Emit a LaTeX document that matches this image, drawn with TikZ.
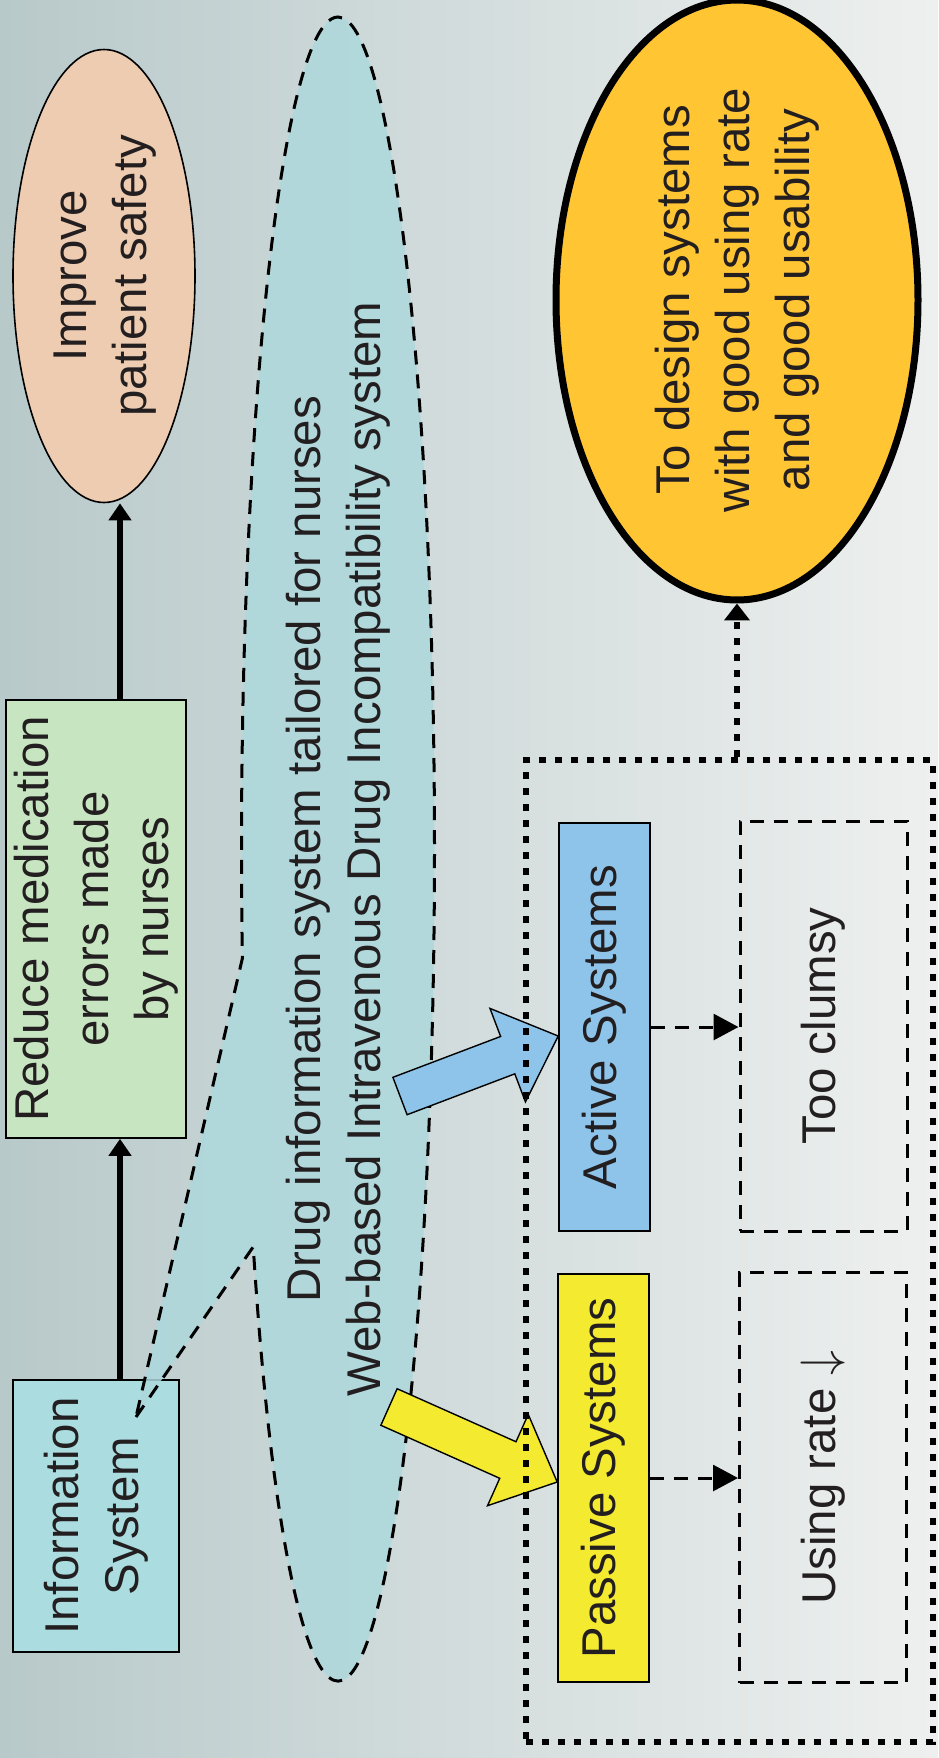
\documentclass[tikz,border=0pt]{standalone}
\usepackage{fontspec}
\setmainfont{Liberation Sans}
\usepackage{graphicx}
\usetikzlibrary{shapes.geometric, shapes.callouts, arrows.meta, calc}

\definecolor{inkgray}{HTML}{231F20}
\definecolor{infoteal}{HTML}{ABDCDF}
\definecolor{reducegreen}{HTML}{C8E5C2}
\definecolor{improvepeach}{HTML}{EDCCB2}
\definecolor{goalorange}{HTML}{FFC533}
\definecolor{activeblue}{HTML}{8EC4E9}
\definecolor{passiveyellow}{HTML}{F4EB31}
\definecolor{spikeblue}{HTML}{ADD8DC}
\definecolor{bgleft}{HTML}{B8C9CA}
\definecolor{bgright}{HTML}{EEF0EF}

\newcommand{\vtext}[1]{\rotatebox{90}{\begin{tabular}{@{}c@{}}#1\end{tabular}}}
% fat arrow from tail #1 to tip #2
\newcommand{\blockarrow}[3]{%
  \coordinate (#1-h) at ($(#2)!27pt!(#1)$);
  \draw[blockline, fill=#3] ($(#1)!10pt!90:(#2)$) -- ($(#1-h)!10pt!90:(#2)$)
    -- ($(#1-h)!25pt!90:(#2)$) -- (#2) -- ($(#1-h)!25pt!-90:(#2)$)
    -- ($(#1-h)!10pt!-90:(#2)$) -- ($(#1)!10pt!-90:(#2)$) -- cycle;}

\tikzset{
    base/.style = {font=\fontsize{23.7pt}{30pt}\selectfont, text=inkgray, inner sep=0pt},
    box/.style = {base, draw, rectangle, line width=0.8pt},
    oval/.style = {base, draw, ellipse, line width=0.8pt},
    dashline/.style = {line width=1.5pt, dash pattern=on 7pt off 5pt},
    dotline/.style = {line width=3pt, dash pattern=on 3.5pt off 4.5pt},
    hintbox/.style = {base, draw, rectangle, dashline, minimum width=83.5pt, minimum height=205pt},
    sysbox/.style = {box, minimum width=45.5pt, minimum height=204pt},
    blockline/.style = {draw, line width=0.7pt, line join=miter},
    solidarrow/.style = {-{Triangle[length=8.5pt, width=11pt]}, line width=3pt},
    dasharrow/.style = {dashline, -{Triangle[length=12.5pt, width=13pt]}},
    dotarrow/.style = {dotline, -{Triangle[length=8.5pt, width=12.5pt]}}
}

\begin{document}
\begin{tikzpicture}[x=0.5pt, y=-0.5pt]
    \shade[left color=bgleft, right color=bgright] (0,0) rectangle (938,1758);
    \useasboundingbox (0,0) rectangle (938,1758);

    \node[box, fill=infoteal, minimum width=83pt, minimum height=136pt] (info) at (96,1516) {\vtext{Information\\System}};
    \node[box, fill=reducegreen, minimum width=83pt, minimum height=219pt] (reduce) at (96,919) {\vtext{Reduce medication\\errors made\\by nurses}};
    \node[oval, fill=improvepeach, minimum width=91pt, minimum height=226.5pt] (improve) at (104,276) {\vtext{Improve\\patient safety}};
    \node[oval, fill=goalorange, line width=3.5pt, minimum width=181pt, minimum height=297.5pt] (goal) at (737,300) {\vtext{To design systems\\with good using rate\\and good usability}};

    \node[sysbox, fill=activeblue] (active) at (604.5,1027) {\vtext{Active Systems}};
    \node[sysbox, fill=passiveyellow] (passive) at (603.5,1478) {\vtext{Passive Systems}};
    \node[hintbox] (clumsy) at (823.5,1026) {\vtext{Too clumsy}};
    \node[hintbox] (usingrate) at (823,1477.5) {\vtext{Using rate $\downarrow$}};

    \draw[solidarrow] ([xshift=12pt]info.north) -- ([xshift=12pt]reduce.south);
    \draw[solidarrow] ([xshift=12pt]reduce.north) -- ([xshift=12pt]reduce.north |- improve.south);
    \draw[dasharrow] (active.east) -- (active.east -| clumsy.west);
    \draw[dasharrow] (passive.east) -- (passive.east -| usingrate.west);

    \node[base, ellipse callout, draw, dashline, fill=spikeblue, fill opacity=0.85, text opacity=1,
          minimum width=96.5pt, minimum height=832pt,
          callout absolute pointer={(136,1417)}, callout pointer arc=21] (drug) at (338,849)
          {\vtext{Drug information system tailored for nurses\\Web-based Intravenous Drug Incompatibility system}};

    \coordinate (bluetail) at (400,1096);
    \coordinate (bluetip) at ([yshift=-4.5pt]active.west);
    \coordinate (yellowtail) at (389,1407);
    \coordinate (yellowtip) at ([yshift=-2pt]passive.west);
    \blockarrow{bluetail}{bluetip}{activeblue}
    \blockarrow{yellowtail}{yellowtip}{passiveyellow}

    \node[draw, dotline, minimum width=203.5pt, minimum height=491pt, inner sep=0pt] (group) at (729.5,1251) {};
    \draw[dotarrow] (group.north -| goal.south) -- (goal.south);
\end{tikzpicture}
\end{document}
